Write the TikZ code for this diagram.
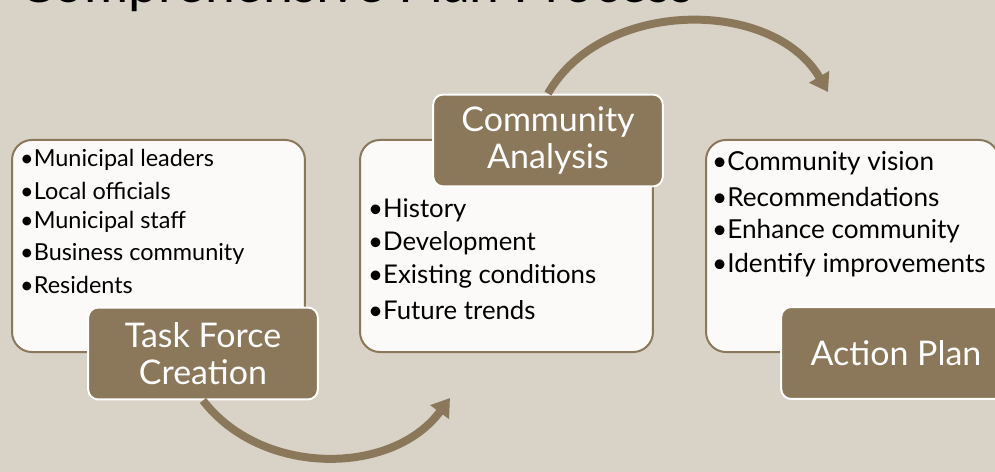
\documentclass[tikz,border=0pt]{standalone}
\usepackage{fontspec}
\setmainfont{Lato}
\definecolor{planbg}{RGB}{216,210,199}
\definecolor{planbrown}{RGB}{139,119,89}
\definecolor{planwhite}{RGB}{251,250,248}
\usetikzlibrary{arrows.meta,positioning}

\begin{document}
\begin{tikzpicture}[x=0.03cm, y=0.03cm,
    itembox/.style={draw=planbrown, line width=1.7pt, fill=planwhite, rounded corners=17pt,
        minimum width=250pt, minimum height=181pt, inner sep=0pt},
    labelbox/.style={draw=white, line width=1.7pt, fill=planbrown, rounded corners=8.5pt,
        minimum width=196pt, minimum height=78.5pt, inner sep=0pt, text=white, align=center,
        font=\fontsize{29}{31.5}\selectfont},
    item/.style={anchor=west, inner sep=0pt, text=black},
    flowarrow/.style={draw=planbrown, line width=6.8pt, -{Triangle[length=15pt,width=19pt]}}]
    \clip (0,0) rectangle (995,472);
    \fill[planbg] (0,0) rectangle (995,472);

    % title, cut off by the top edge
    \node[anchor=base west, inner sep=0pt, font=\fontsize{45.8}{54}\selectfont] (title) at (18,469) {Comprehensive Plan Process};

    % white boxes
    \node[itembox] (tfbox) at (158.5,226) {};
    \node[itembox] (cabox) at (506.5,226) {};
    \node[itembox] (apbox) at (852.5,226) {};

    % bullet lists
    \node[item, font=\fontsize{20}{23}\selectfont] (tf1) at (20,312) {\textbullet Municipal leaders};
    \node[item, font=\fontsize{20}{23}\selectfont] (tf2) at (20,281) {\textbullet Local officials};
    \node[item, font=\fontsize{20}{23}\selectfont] (tf3) at (20,250) {\textbullet Municipal staff};
    \node[item, font=\fontsize{20}{23}\selectfont] (tf4) at (20,218) {\textbullet Business community};
    \node[item, font=\fontsize{20}{23}\selectfont] (tf5) at (20,187) {\textbullet Residents};

    \node[item, font=\fontsize{22}{25}\selectfont] (ca1) at (368,262) {\textbullet History};
    \node[item, font=\fontsize{22}{25}\selectfont] (ca2) at (368,229) {\textbullet Development};
    \node[item, font=\fontsize{22}{25}\selectfont] (ca3) at (368,196) {\textbullet Existing conditions};
    \node[item, font=\fontsize{22}{25}\selectfont] (ca4) at (368,162) {\textbullet Future trends};

    \node[item, font=\fontsize{22.3}{25}\selectfont] (ap1) at (712,309) {\textbullet Community vision};
    \node[item, font=\fontsize{22.3}{25}\selectfont] (ap2) at (712,275) {\textbullet Recommendations};
    \node[item, font=\fontsize{22.3}{25}\selectfont] (ap3) at (712,241) {\textbullet Enhance community};
    \node[item, font=\fontsize{22.3}{25}\selectfont] (ap4) at (712,207) {\textbullet Identify improvements};

    % step labels
    \node[labelbox] (tflabel) at (203,118.5) {Task Force\\Creation};
    \node[labelbox] (calabel) at (548,331.5) {Community\\Analysis};
    \node[labelbox] (aplabel) at (896,119) {Action Plan};

    % arrows between steps
    \coordinate (botend) at (450,74);
    \coordinate (topend) at (828,380);
    \draw[flowarrow] (tflabel.south) to[bend right=53] (botend);
    \draw[flowarrow] (calabel.north) to[bend left=60] (topend);
\end{tikzpicture}
\end{document}
